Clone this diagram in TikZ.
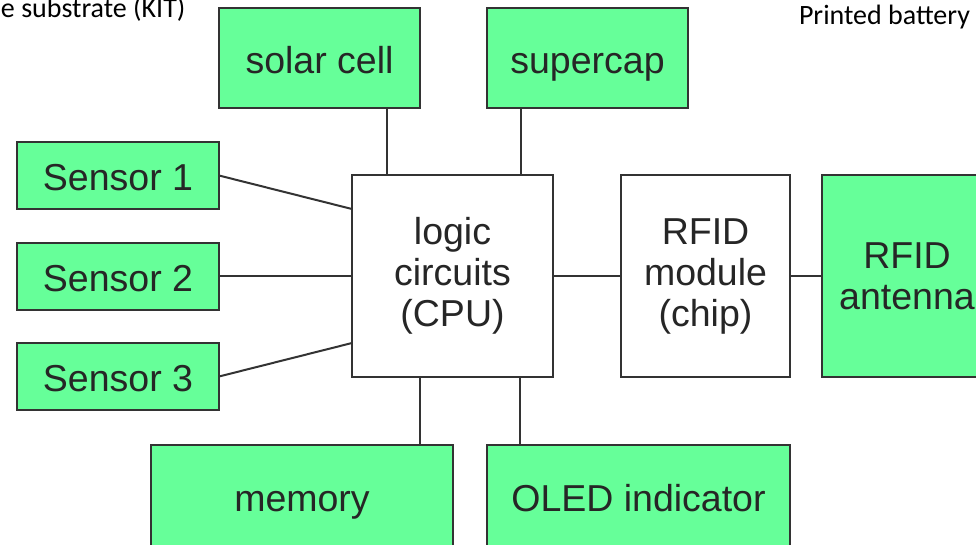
\documentclass[tikz,border=0pt]{standalone}
\usepackage{fontspec}
\setmainfont{Liberation Sans}
\newfontfamily\notefont{Carlito}
\definecolor{boxgreen}{RGB}{102,255,153}
\definecolor{edgegray}{RGB}{51,51,51}

\begin{document}
\begin{tikzpicture}[x=1pt,y=-1pt,line width=2pt,
 every node/.style={font=\fontsize{37.5}{41}\selectfont,text=black!85},
 block/.style={draw=edgegray,inner sep=0pt,outer sep=0pt},
 part/.style={block,fill=boxgreen,text height=30pt,text depth=0pt},
 core/.style={block,fill=white,minimum height=202pt,align=center},
 note/.style={font=\notefont\fontsize{28}{32}\selectfont,text=black,inner sep=0pt,anchor=base west}]
\useasboundingbox(0,0)rectangle(976,544);\clip(0,0)rectangle(976,544);
\node[part,minimum width=201pt,minimum height=100pt](solar)at(319.5,58){solar cell};
\node[part,minimum width=201pt,minimum height=100pt](supercap)at(587.5,58){supercap};
\node[part,minimum width=202pt,minimum height=67pt](s1)at(118,175.5){Sensor 1};
\node[part,minimum width=202pt,minimum height=67pt](s2)at(118,276){Sensor 2};
\node[part,minimum width=202pt,minimum height=67pt](s3)at(118,376.5){Sensor 3};
\node[core,minimum width=201pt](cpu)at(452.5,276){logic\\circuits\\(CPU)};
\node[core,minimum width=169pt](rfid)at(705.5,276){RFID\\module\\(chip)};
\node[core,fill=boxgreen,minimum width=170pt](ant)at(907,276){RFID\\antenna};
\node[part,minimum width=302pt,minimum height=102pt](memory)at(302,496){memory};
\node[part,minimum width=303pt,minimum height=102pt](oled)at(638.5,496){OLED indicator};
\draw[edgegray]([xshift=-33pt]solar.south east)--([xshift=35pt]cpu.north west);
\draw[edgegray]([xshift=34pt]supercap.south west)--([xshift=-32pt]cpu.north east);
\draw[edgegray](s1.east)--([yshift=-34pt]cpu.north west);
\draw[edgegray](s2.east)--(cpu.west);
\draw[edgegray](s3.east)--([yshift=34pt]cpu.south west);
\draw[edgegray](cpu.east)--(rfid.west);\draw[edgegray](rfid.east)--(ant.west);
\draw[edgegray]([xshift=68pt]cpu.south west)--([xshift=-33pt]memory.north east);
\draw[edgegray]([xshift=-33pt]cpu.south east)--([xshift=33pt]oled.north west);
\node[note](kit)at(0,17){e substrate (KIT)};
\node[note](bat)at(798,24){Printed battery};
\end{tikzpicture}
\end{document}
